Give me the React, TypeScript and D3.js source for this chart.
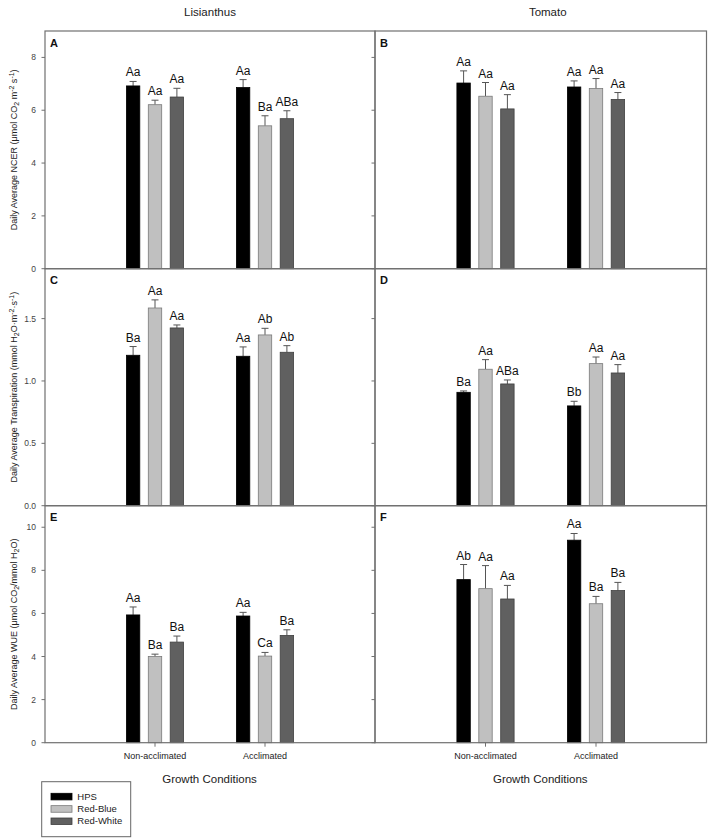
import React from "react";
import * as d3 from "d3";

const categories = ["Non-acclimated", "Acclimated"];
const treatments = ["HPS", "Red-Blue", "Red-White"];
const treatmentColors = ["#000000", "#c0c0c0", "#606060"];
const treatmentStrokes = ["#000000", "#7a7a7a", "#404040"];
const columnTitles = ["Lisianthus", "Tomato"];

// values ordered: Non-acclimated (HPS, RB, RW), Acclimated (HPS, RB, RW)
const lisNcer = [6.92, 6.21, 6.5, 6.86, 5.41, 5.68];
const lisNcerErr = [0.17, 0.17, 0.33, 0.3, 0.38, 0.3];
const lisNcerLbl = ["Aa", "Aa", "Aa", "Aa", "Ba", "ABa"];

const tomNcer = [7.03, 6.53, 6.05, 6.88, 6.82, 6.41];
const tomNcerErr = [0.46, 0.52, 0.54, 0.23, 0.38, 0.26];
const tomNcerLbl = ["Aa", "Aa", "Aa", "Aa", "Aa", "Aa"];

const lisTr = [1.206, 1.585, 1.425, 1.198, 1.369, 1.23];
const lisTrErr = [0.07, 0.065, 0.024, 0.075, 0.053, 0.053];
const lisTrLbl = ["Ba", "Aa", "Aa", "Aa", "Ab", "Ab"];

const tomTr = [0.909, 1.094, 0.976, 0.8, 1.139, 1.064];
const tomTrErr = [0.011, 0.077, 0.032, 0.037, 0.053, 0.067];
const tomTrLbl = ["Ba", "Aa", "ABa", "Bb", "Aa", "Aa"];

const lisWue = [5.93, 4.0, 4.67, 5.88, 4.02, 4.98];
const lisWueErr = [0.37, 0.11, 0.28, 0.17, 0.17, 0.26];
const lisWueLbl = ["Aa", "Ba", "Ba", "Aa", "Ca", "Ba"];

const tomWue = [7.57, 7.15, 6.67, 9.4, 6.45, 7.06];
const tomWueErr = [0.7, 1.07, 0.63, 0.31, 0.34, 0.38];
const tomWueLbl = ["Ab", "Aa", "Aa", "Aa", "Ba", "Ba"];

const ncerTicks = [0, 2, 4, 6, 8];
const trTicks = [0, 0.5, 1.0, 1.5];
const wueTicks = [0, 2, 4, 6, 8, 10];

const colX = [
  [45, 375],
  [375, 706.5],
];
const rowY = [
  [31, 268.7],
  [268.7, 505.7],
  [505.7, 742.7],
];
const rowMax = [9, 1.9, 11];
const rowTicks = [ncerTicks, trTicks, wueTicks];
const rowFmt = [d3.format("d"), d3.format(".1f"), d3.format("d")];
const panelLetters = [
  ["A", "B"],
  ["C", "D"],
  ["E", "F"],
];
const panelData = [
  [
    [lisNcer, lisNcerErr, lisNcerLbl],
    [tomNcer, tomNcerErr, tomNcerLbl],
  ],
  [
    [lisTr, lisTrErr, lisTrLbl],
    [tomTr, tomTrErr, tomTrLbl],
  ],
  [
    [lisWue, lisWueErr, lisWueLbl],
    [tomWue, tomWueErr, tomWueLbl],
  ],
];

const FONT = "'Liberation Sans', Arial, Helvetica, sans-serif";
const BORDER = "#707070";

function Panel({ r, c }: { r: number; c: number }) {
  const [x0, x1] = colX[c];
  const [y0, y1] = rowY[r];
  const y = d3.scaleLinear().domain([0, rowMax[r]]).range([y1, y0]);
  const x = d3.scaleLinear().domain([0, 3]).range([x0, x1]);
  const [vals, errs, lbls] = panelData[r][c] as [number[], number[], string[]];
  const barW = 13.4;
  const step = 21.9;
  const capW = 7;
  return (
    <g>
      {vals.map((v, i) => {
        const cat = Math.floor(i / 3);
        const t = i % 3;
        const cx = x(cat + 1) + (t - 1) * step;
        const top = y(v);
        const capY = y(v + errs[i]);
        return (
          <g key={i}>
            <line x1={cx} x2={cx} y1={top} y2={capY} stroke="#555" strokeWidth={1} />
            <line x1={cx - capW / 2} x2={cx + capW / 2} y1={capY} y2={capY} stroke="#555" strokeWidth={1} />
            <rect
              x={cx - barW / 2}
              y={top}
              width={barW}
              height={y1 - top}
              fill={treatmentColors[t]}
              stroke={treatmentStrokes[t]}
              strokeWidth={0.8}
            />
            <text
              x={cx}
              y={capY - 5}
              textAnchor="middle"
              fontSize={12}
              fontFamily={FONT}
              fill="#111"
            >
              {lbls[i]}
            </text>
          </g>
        );
      })}
      <rect x={x0} y={y0} width={x1 - x0} height={y1 - y0} fill="none" stroke={BORDER} strokeWidth={1.2} />
      {rowTicks[r].map((tv) => (
        <g key={tv}>
          <line x1={x0 - 3.5} x2={x0} y1={y(tv)} y2={y(tv)} stroke={BORDER} strokeWidth={1} />
          {c === 0 && (
            <text
              x={x0 - 9}
              y={y(tv) + 3}
              textAnchor="end"
              fontSize={8.5}
              fontFamily={FONT}
              fill="#444"
            >
              {rowFmt[r](tv)}
            </text>
          )}
        </g>
      ))}
      {r === 2 &&
        categories.map((cat, k) => (
          <g key={cat}>
            <line x1={x(k + 1)} x2={x(k + 1)} y1={y1} y2={y1 + 4} stroke={BORDER} strokeWidth={1} />
            <text x={x(k + 1)} y={y1 + 16.5} textAnchor="middle" fontSize={9} fontFamily={FONT} fill="#222">
              {cat}
            </text>
          </g>
        ))}
      <text x={x0 + 5} y={y0 + 15.5} fontSize={11} fontWeight="bold" fontFamily={FONT} fill="#111">
        {panelLetters[r][c]}
      </text>
    </g>
  );
}

function YTitle({ r }: { r: number }) {
  const [y0, y1] = rowY[r];
  const cy = (y0 + y1) / 2;
  const common = { fontSize: 9, fontFamily: FONT, fill: "#222", textAnchor: "middle" as const };
  const sub = { baselineShift: "-25%", fontSize: 7 } as any;
  const sup = { baselineShift: "45%", fontSize: 7 } as any;
  let content: React.ReactNode;
  if (r === 0) {
    content = (
      <>
        Daily Average NCER (μmol CO<tspan style={sub}>2</tspan> m<tspan style={sup}>-2</tspan> s
        <tspan style={sup}>-1</tspan>)
      </>
    );
  } else if (r === 1) {
    content = (
      <>
        Daily Average Transpiration (mmol H<tspan style={sub}>2</tspan>O·m<tspan style={sup}>-2</tspan>·s
        <tspan style={sup}>-1</tspan>)
      </>
    );
  } else {
    content = (
      <>
        Daily Average WUE (μmol CO<tspan style={sub}>2</tspan>/mmol H<tspan style={sub}>2</tspan>O)
      </>
    );
  }
  return (
    <text transform={`translate(16.5,${cy}) rotate(-90)`} {...common}>
      {content}
    </text>
  );
}

export default function App() {
  return (
    <svg
      width={708}
      height={838}
      style={{ position: "absolute", left: 0, top: 0, background: "#fff" }}
    >
      <rect width={708} height={838} fill="#fff" />
      {columnTitles.map((t, c) => (
        <text
          key={t}
          x={(colX[c][0] + colX[c][1]) / 2 + (c === 1 ? 7 : 0)}
          y={16}
          textAnchor="middle"
          fontSize={11.5}
          fontFamily={FONT}
          fill="#222"
        >
          {t}
        </text>
      ))}
      {[0, 1, 2].map((r) =>
        [0, 1].map((c) => <Panel key={`${r}-${c}`} r={r} c={c} />)
      )}
      {[0, 1, 2].map((r) => (
        <YTitle key={r} r={r} />
      ))}
      {[0, 1].map((c) => (
        <text
          key={c}
          x={(colX[c][0] + colX[c][1]) / 2 - (c === 0 ? 0.5 : 0.5)}
          y={783}
          textAnchor="middle"
          fontSize={11.5}
          fontFamily={FONT}
          fill="#222"
        >
          Growth Conditions
        </text>
      ))}
      <g>
        <rect x={41.7} y={781.7} width={89} height={55} fill="#fff" stroke="#666" strokeWidth={1} />
        {treatments.map((t, i) => (
          <g key={t}>
            <rect
              x={51}
              y={793.3 + i * 12.35}
              width={21}
              height={6.6}
              fill={treatmentColors[i]}
              stroke={treatmentStrokes[i]}
              strokeWidth={0.8}
            />
            <text x={77.3} y={793.3 + i * 12.35 + 6.4} fontSize={9.5} fontFamily={FONT} fill="#222">
              {t}
            </text>
          </g>
        ))}
      </g>
    </svg>
  );
}
